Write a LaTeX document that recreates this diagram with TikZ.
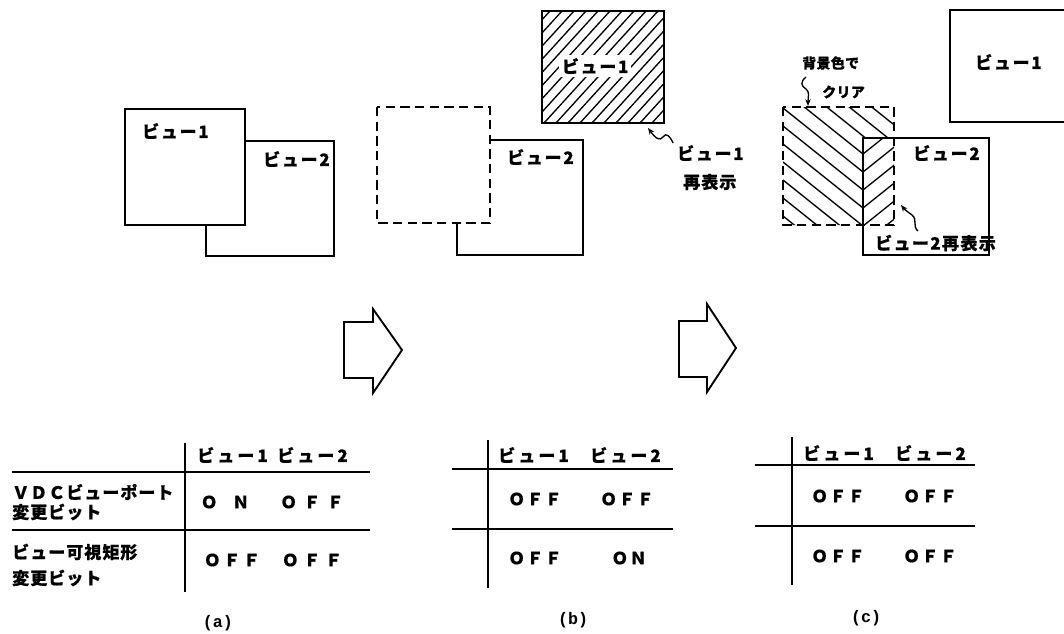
\documentclass[tikz,border=0pt]{standalone}
\usepackage{fontspec}
\newfontfamily\jpf{Noto Sans CJK JP}[BoldFeatures={FakeBold=0.6}]
\newfontfamily\capf{Liberation Mono}
\newcommand\jpsz[2]{\jpf\bfseries\fontsize{#1}{#1}\selectfont\addfontfeature{LetterSpace=#2}}
\usetikzlibrary{arrows.meta}
\tikzset{
  boxlbl/.style={inner sep=0pt, anchor=west, font=\jpsz{12.75pt}{10}},
  hdr/.style={inner sep=0pt, anchor=west, font=\jpsz{12.75pt}{18}},
  rowlbl/.style={inner sep=0pt, anchor=west, font=\jpsz{12.75pt}{6}},
  vdclbl/.style={inner sep=0pt, anchor=west, font=\jpsz{12.75pt}{6}},
  smalllbl/.style={inner sep=0pt, anchor=west, font=\jpsz{10.5pt}{2}},
  valwide/.style={inner sep=0pt, font=\jpsz{12.5pt}{40}},
  valtight/.style={inner sep=0pt, font=\jpsz{12.5pt}{10}},
  caption/.style={inner sep=0pt, font=\capf\bfseries\fontsize{12.5}{14}\selectfont},
  outline/.style={line width=1.4pt, line join=miter},
  dashbox/.style={line width=1.4pt, dash pattern=on 7pt off 4pt},
  hatch/.style={line width=1pt},
  rule/.style={line width=1.4pt},
  squig/.style={line width=1pt, -{Stealth[length=5pt,width=4pt]}},
  blockarrow/.style={line width=1.4pt, line join=miter},
}
\begin{document}
\begin{tikzpicture}[x=0.75pt,y=-0.75pt]
\useasboundingbox (0,0) rectangle (1064,633);

% ---------------- (a) two overlapping views ----------------
\draw[outline] (125,109) rectangle (245,225);
\draw[outline] (245,141) -- (334,141) -- (334,256) -- (206,256) -- (206,225);
\node[boxlbl] (a-v1) at (142,131) {ビュー1};
\node[boxlbl] (a-v2) at (263,159) {ビュー2};

% ---------------- (b) view 1 moved and redrawn ----------------
\draw[dashbox] (377,107) rectangle (490,223);
\draw[outline] (490,140) -- (583,140) -- (583,255) -- (457,255) -- (457,223);
\begin{scope}
  \clip (542,11) rectangle (664,123);
  \foreach \s in {400,412,...,676}
    \draw[hatch] (\s,123) -- ({\s+102},11);
\end{scope}
\draw[outline] (542,11) rectangle (664,123);
\node[boxlbl, fill=white, inner sep=2pt] (b-v1) at (559,66) {ビュー1};
\node[boxlbl] (b-v2) at (507,157) {ビュー2};
\node[boxlbl] (b-n1) at (677,153) {ビュー1};
\node[rowlbl] (b-n2) at (683,182) {再表示};
\coordinate (b-tip) at (648,128);
\draw[squig] (673,143) .. controls (670,136) and (666,132) .. (663,137)
             .. controls (660,141) and (656,139) .. (b-tip);

% ---------------- (c) old area cleared, view 2 redrawn ----------------
\draw[outline] (1066,10) -- (950,10) -- (950,122) -- (1066,122);
\node[boxlbl] (c-v1) at (975,62) {ビュー1};
\begin{scope}
  \clip (783,107) -- (894,107) -- (894,138) -- (863,138) -- (863,225) -- (783,225) -- cycle;
  \foreach \c in {0,18,...,234}
    \draw[hatch] (783,\c) -- (894,{\c+88.8});
\end{scope}
\begin{scope}
  \clip (863,138) rectangle (894,225);
  \foreach \c in {0,18,...,234}
    \draw[hatch] (863,{\c+64}) -- (903,{\c+32});
\end{scope}
\draw[dashbox] (783,107) rectangle (894,225);
\draw[outline] (863,138) rectangle (989,255);
\node[boxlbl] (c-v2) at (913,153) {ビュー2};
\node[smalllbl] (c-bg1) at (802,63) {背景色で};
\node[smalllbl] (c-bg2) at (822,92) {クリア};
\coordinate (c-tip1) at (808,106);
\draw[squig] (806,77) .. controls (800,82) and (801,86) .. (806,89)
             .. controls (810,92) and (808,97) .. (c-tip1);
\node[boxlbl, font=\jpsz{12.75pt}{8}] (c-redraw) at (875,243) {ビュー2再表示};
\coordinate (c-tip2) at (901,205);
\draw[squig] (918,231) .. controls (912,226) and (918,220) .. (912,215)
             .. controls (908,212) and (905,210) .. (c-tip2);

% ---------------- block arrows ----------------
\draw[blockarrow] (344,322) -- (373,322) -- (373,309) -- (402,350) -- (373,393)
                  -- (373,378) -- (344,378) -- cycle;
\draw[blockarrow] (679,321) -- (707,321) -- (707,304) -- (736,348) -- (707,392)
                  -- (707,377) -- (679,377) -- cycle;

% ---------------- table (a) ----------------
\draw[rule] (185,443) -- (185,592);
\draw[rule] (12,472) -- (370,472);
\draw[rule] (12,530) -- (370,530);
\node[hdr] (ta-h1) at (197,455) {ビュー1};
\node[hdr] (ta-h2) at (277,455) {ビュー2};
\node[vdclbl] (ta-r1a) at (12,492) {ＶＤＣビューポート};
\node[rowlbl] (ta-r1b) at (12,512) {変更ビット};
\node[rowlbl] (ta-r2a) at (12,552) {ビュー可視矩形};
\node[rowlbl] (ta-r2b) at (12,578) {変更ビット};
\node[valwide, font=\jpsz{12.5pt}{90}] (ta-11) at (225,502) {ＯＮ};
\node[valwide] (ta-12) at (312,502) {ＯＦＦ};
\node[valwide, font=\jpsz{12.5pt}{18}] (ta-21) at (232,560) {ＯＦＦ};
\node[valwide, font=\jpsz{12.5pt}{30}] (ta-22) at (312,560) {ＯＦＦ};
\node[caption] (ta-cap) at (218,623) {(a)};

% ---------------- table (b) ----------------
\draw[rule] (488,440) -- (488,588);
\draw[rule] (452,469) -- (673,469);
\draw[rule] (452,529) -- (673,529);
\node[hdr] (tb-h1) at (498,455) {ビュー1};
\node[hdr] (tb-h2) at (590,455) {ビュー2};
\node[valtight] (tb-11) at (535,499) {ＯＦＦ};
\node[valtight] (tb-12) at (627,499) {ＯＦＦ};
\node[valtight] (tb-21) at (535,558) {ＯＦＦ};
\node[valtight] (tb-22) at (629,558) {ＯＮ};
\node[caption] (tb-cap) at (573,620) {(b)};

% ---------------- table (c) ----------------
\draw[rule] (792,437) -- (792,585);
\draw[rule] (755,465) -- (975,465);
\draw[rule] (755,526) -- (975,526);
\node[hdr] (tc-h1) at (803,453) {ビュー1};
\node[hdr] (tc-h2) at (895,453) {ビュー2};
\node[valtight] (tc-11) at (838,496) {ＯＦＦ};
\node[valtight] (tc-12) at (930,496) {ＯＦＦ};
\node[valtight] (tc-21) at (838,556) {ＯＦＦ};
\node[valtight] (tc-22) at (930,556) {ＯＦＦ};
\node[caption] (tc-cap) at (866,618) {(c)};
\end{tikzpicture}
\end{document}
